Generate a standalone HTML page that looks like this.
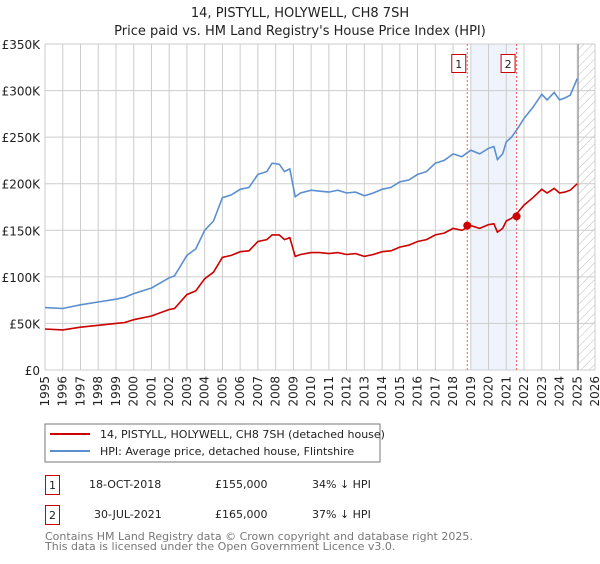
<!DOCTYPE html>
<html><head><meta charset="utf-8"><style>
body{margin:0;background:#fff;font-family:"DejaVu Sans","Liberation Sans",sans-serif;}
svg text{font-family:"DejaVu Sans","Liberation Sans",sans-serif;}
</style></head><body>
<svg id="chart" width="600" height="560" xmlns="http://www.w3.org/2000/svg">
<defs><pattern id="hatch" width="6" height="6" patternUnits="userSpaceOnUse" patternTransform="rotate(45)"><line x1="0" y1="0" x2="0" y2="6" stroke="#bbb" stroke-width="1"/></pattern></defs>
<text x="300" y="17" text-anchor="middle" font-size="13" fill="#222">14, PISTYLL, HOLYWELL, CH8 7SH</text>
<text x="300" y="35" text-anchor="middle" font-size="13" fill="#222">Price paid vs. HM Land Registry's House Price Index (HPI)</text>
<g id="grid"></g>
<g id="marks"></g>
<rect x="45" y="424" width="335" height="38" fill="#fff" stroke="#777"/>
<line x1="50" y1="434" x2="90" y2="434" stroke="#cc0000" stroke-width="2"/>
<text x="100" y="438" font-size="11" fill="#222">14, PISTYLL, HOLYWELL, CH8 7SH (detached house)</text>
<line x1="50" y1="451" x2="90" y2="451" stroke="#5b8fd0" stroke-width="2"/>
<text x="100" y="455" font-size="11" fill="#222">HPI: Average price, detached house, Flintshire</text>
<rect x="45.5" y="475.5" width="14" height="19" fill="#fff" stroke="#cc0000"/>
<text x="52.5" y="489" text-anchor="middle" font-size="11" fill="#222">1</text>
<text x="89" y="488" font-size="11" fill="#222">18-OCT-2018</text>
<text x="215" y="488" font-size="11" fill="#222">£155,000</text>
<text x="312" y="488" font-size="11" fill="#222">34% ↓ HPI</text>
<rect x="45.5" y="505.5" width="14" height="19" fill="#fff" stroke="#cc0000"/>
<text x="52.5" y="519" text-anchor="middle" font-size="11" fill="#222">2</text>
<text x="94" y="518" font-size="11" fill="#222">30-JUL-2021</text>
<text x="215" y="518" font-size="11" fill="#222">£165,000</text>
<text x="312" y="518" font-size="11" fill="#222">37% ↓ HPI</text>
<text x="45" y="540" font-size="11" fill="#777">Contains HM Land Registry data © Crown copyright and database right 2025.</text>
<text x="45" y="550" font-size="11" fill="#777">This data is licensed under the Open Government Licence v3.0.</text>
</svg>
<script>
const yTicks=[0,50,100,150,200,250,300,350];
const yTickLabels=["£0","£50K","£100K","£150K","£200K","£250K","£300K","£350K"];
const years=[1995,1996,1997,1998,1999,2000,2001,2002,2003,2004,2005,2006,2007,2008,2009,2010,2011,2012,2013,2014,2015,2016,2017,2018,2019,2020,2021,2022,2023,2024,2025,2026];
const dates=[1995,1996,1997,1998,1999,1999.5,2000,2001,2002,2002.3,2003,2003.5,2004,2004.5,2005,2005.5,2006,2006.5,2007,2007.5,2007.8,2008.2,2008.5,2008.8,2009.1,2009.4,2010,2010.5,2011,2011.5,2012,2012.5,2013,2013.5,2014,2014.5,2015,2015.5,2016,2016.5,2017,2017.5,2018,2018.5,2019,2019.5,2020,2020.3,2020.5,2020.8,2021,2021.3,2021.6,2022,2022.5,2023,2023.3,2023.7,2024,2024.3,2024.6,2025];
const hpiValues=[67,66,70,73,76,78,82,88,99,101,123,130,150,160,185,188,194,196,210,213,222,221,213,216,186,190,193,192,191,193,190,191,187,190,194,196,202,204,210,213,222,225,232,229,236,232,238,240,226,232,245,250,258,270,282,296,290,298,290,292,295,313];
const propValues=[44,43,46,48,50,51,54,58,65,66,81,85,98,105,121,123,127,128,138,140,145,145,140,142,122,124,126,126,125,126,124,125,122,124,127,128,132,134,138,140,145,147,152,150,155,152,156,157,148,152,160,163,168,177,185,194,190,195,190,191,193,200];
const saleDates=[2018.8,2021.58];
const salePrices=[155,165];
const saleLabels=["1","2"];
const NS="http://www.w3.org/2000/svg";
const X0=45,X1=595,Y0=370,Y1=44;
const xs=d=>X0+(d-1995)/(2026-1995)*(X1-X0);
const ys=v=>Y0-v/350*(Y0-Y1);
function mk(tag,attrs,parent){const e=document.createElementNS(NS,tag);for(const k in attrs)e.setAttribute(k,attrs[k]);parent.appendChild(e);return e;}
const grid=document.getElementById('grid'),marks=document.getElementById('marks');
// shaded band & hatch
let band=mk('rect',{x:xs(2019),y:Y1,width:xs(2021.58)-xs(2019),height:Y0-Y1,fill:'#eef3fc'},grid);


let hat=mk('rect',{x:xs(2025.05),y:Y1,width:X1-xs(2025.05),height:Y0-Y1,fill:'url(#hatch)'},grid);


yTicks.forEach((t,i)=>{
 let l=mk('line',{x1:X0,x2:X1,y1:ys(t),y2:ys(t),stroke:'#ccc'},grid);
 
 
 let tx=mk('text',{x:40,y:ys(t)+5,'text-anchor':'end','font-size':'12',fill:'#222'},grid);
 tx.textContent=yTickLabels[i];
 
 
});
years.forEach(yr=>{
 let l=mk('line',{x1:xs(yr),x2:xs(yr),y1:Y1,y2:Y0,stroke:'#ccc'},grid);
 
 
 let tx=mk('text',{x:0,y:0,'text-anchor':'end','font-size':'12',fill:'#222',transform:`translate(${xs(yr)+4},376) rotate(-90)`},grid);
 tx.textContent=yr;
 
 
});
let endl=mk('line',{x1:xs(2025.05),x2:xs(2025.05),y1:Y1,y2:Y0,stroke:'#888'},grid);


saleDates.forEach((d,i)=>{
 let l=mk('line',{x1:xs(d),x2:xs(d),y1:Y1,y2:Y0,stroke:'#f06060','stroke-dasharray':'2,2'},grid);
 
 
 let b=mk('rect',{x:xs(d)-15.5,y:54.5,width:14,height:18,fill:'#fff',stroke:'#cc0000'},grid);
 
 
 let t=mk('text',{x:xs(d)-8.5,y:68,'text-anchor':'middle','font-size':'11',fill:'#222'},grid);
 t.textContent=saleLabels[i];
 
 
});
const pathOf=vals=>dates.map((d,i)=>(i?'L':'M')+xs(d).toFixed(1)+','+ys(vals[i]).toFixed(1)).join(' ');
let hp=mk('path',{d:pathOf(hpiValues),fill:'none',stroke:'#5b8fd0','stroke-width':1.6},marks);


let pp=mk('path',{d:pathOf(propValues),fill:'none',stroke:'#cc0000','stroke-width':1.6},marks);


saleDates.forEach((d,i)=>{
 let c=mk('circle',{cx:xs(d),cy:ys(salePrices[i]),r:4,fill:'#cc0000'},marks);
 
 
});
</script>
</body></html>
